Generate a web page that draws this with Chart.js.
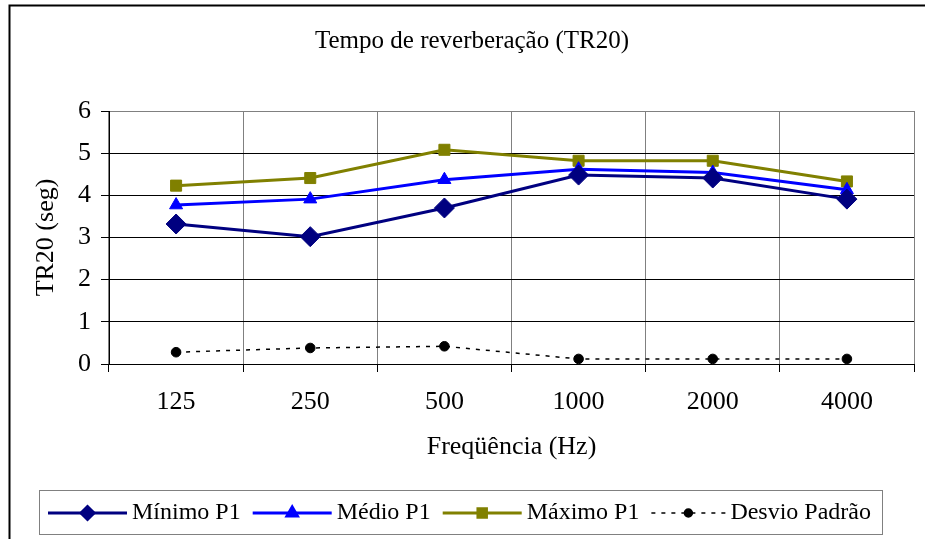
<!DOCTYPE html>
<html>
<head>
<meta charset="utf-8">
<script src="https://cdn.jsdelivr.net/npm/chart.js@4"></script>
<style>
  html, body { margin: 0; padding: 0; background: #fff; }
  #wrap { position: relative; width: 925px; height: 539px; overflow: hidden; }
  canvas { display: block; }
</style>
</head>
<body>
<div id="wrap"><canvas id="c" width="925" height="539"></canvas></div>
<script>
const chartTitle = 'Tempo de reverberação (TR20)';
const xTitle = 'Freqüência (Hz)';
const yTitle = 'TR20 (seg)';
const categories = ['125', '250', '500', '1000', '2000', '4000'];
const minimoP1 = [3.32, 3.02, 3.70, 4.48, 4.41, 3.91];
const medioP1  = [3.77, 3.91, 4.37, 4.62, 4.54, 4.13];
const maximoP1 = [4.23, 4.41, 5.08, 4.82, 4.82, 4.33];
const desvioPadrao = [0.28, 0.38, 0.42, 0.12, 0.12, 0.12];
const yTicks = [0, 1, 2, 3, 4, 5, 6];

const FONT = "'Liberation Serif', 'Times New Roman', serif";

const decorPlugin = {
  id: 'decor',
  afterDraw(chart) {
    const ctx = chart.ctx;
    ctx.save();
    // outer frame (top & left visible)
    ctx.strokeStyle = '#000';
    ctx.lineWidth = 2;
    ctx.beginPath();
    ctx.moveTo(9.5, 560);
    ctx.lineTo(9.5, 5.5);
    ctx.lineTo(940, 5.5);
    ctx.stroke();
    // title
    ctx.fillStyle = '#000';
    ctx.font = '25px ' + FONT;
    ctx.textAlign = 'center';
    ctx.textBaseline = 'middle';
    ctx.fillText(chartTitle, 472, 41);
    // legend
    const boxL = 39.5, boxT = 490.5, boxR = 882.5, boxB = 534.5;
    ctx.strokeStyle = '#808080';
    ctx.lineWidth = 1;
    ctx.strokeRect(boxL, boxT, boxR - boxL, boxB - boxT);
    ctx.font = '24px ' + FONT;
    ctx.textAlign = 'left';
    const cy = 513;
    const legendRadius = [6.5, 6, 6, 4];
    let x = 48;
    chart.data.datasets.forEach((ds, i) => {
      const len = i === 3 ? 74 : 79;
      ctx.save();
      ctx.strokeStyle = ds.borderColor;
      ctx.lineWidth = ds.borderWidth;
      ctx.setLineDash(ds.borderDash || []);
      ctx.beginPath();
      ctx.moveTo(x, cy);
      ctx.lineTo(x + len, cy);
      ctx.stroke();
      ctx.setLineDash([]);
      ctx.fillStyle = ds.pointBackgroundColor;
      ctx.strokeStyle = ds.pointBorderColor;
      Chart.helpers.drawPoint(ctx, {
        pointStyle: ds.pointStyle,
        radius: legendRadius[i],
        borderWidth: 1,
        rotation: 0
      }, x + len / 2, cy);
      ctx.restore();
      const tx = x + len + 5;
      ctx.fillStyle = '#000';
      ctx.fillText(ds.label, tx, cy);
      x = tx + ctx.measureText(ds.label).width + 12;
    });
    ctx.restore();
  }
};

new Chart(document.getElementById('c'), {
  type: 'line',
  data: {
    labels: categories,
    datasets: [
      {
        label: 'Mínimo P1', data: minimoP1,
        borderColor: '#000080', borderWidth: 3,
        pointStyle: 'rectRot', pointRadius: 10,
        pointBackgroundColor: '#000080', pointBorderColor: '#000080', pointBorderWidth: 1
      },
      {
        label: 'Médio P1', data: medioP1,
        borderColor: '#0000FF', borderWidth: 3,
        pointStyle: 'triangle', pointRadius: 7.5,
        pointBackgroundColor: '#0000FF', pointBorderColor: '#0000FF', pointBorderWidth: 1
      },
      {
        label: 'Máximo P1', data: maximoP1,
        borderColor: '#808000', borderWidth: 3,
        pointStyle: 'rect', pointRadius: 7.8,
        pointBackgroundColor: '#808000', pointBorderColor: '#808000', pointBorderWidth: 1
      },
      {
        label: 'Desvio Padrão', data: desvioPadrao,
        borderColor: '#000000', borderWidth: 1.5, borderDash: [4, 6],
        pointStyle: 'circle', pointRadius: 4.8,
        pointBackgroundColor: '#000000', pointBorderColor: '#000000', pointBorderWidth: 1
      }
    ]
  },
  options: {
    responsive: false,
    animation: false,
    devicePixelRatio: 1,
    layout: { padding: { left: 10, right: 9, top: 111, bottom: 69 } },
    plugins: {
      legend: { display: false },
      title: { display: false },
      tooltip: { enabled: false }
    },
    scales: {
      x: {
        type: 'category',
        offset: true,
        grid: {
          offset: true,
          color: '#808080',
          lineWidth: 1,
          drawTicks: true,
          tickLength: 8,
          tickColor: '#000'
        },
        border: { display: true, color: '#000', width: 1 },
        ticks: {
          color: '#000',
          font: { family: FONT, size: 26 },
          padding: 15,
          maxRotation: 0,
          autoSkip: false
        },
        title: {
          display: true, text: xTitle, color: '#000',
          font: { family: FONT, size: 26 },
          padding: { top: 0, bottom: 7.5 }
        },
        afterFit(scale) { scale.height = 106; }
      },
      y: {
        min: 0, max: 6,
        afterBuildTicks(scale) { scale.ticks = yTicks.map(v => ({ value: v })); },
        grid: {
          color: (c) => (c.tick && c.tick.value === 6) ? '#808080' : '#000',
          lineWidth: 1,
          drawTicks: true,
          tickLength: 8,
          tickColor: '#000'
        },
        border: { display: true, color: '#000', width: 1 },
        ticks: {
          color: '#000',
          font: { family: FONT, size: 26 },
          padding: 10
        },
        title: {
          display: true, text: yTitle, color: '#000',
          font: { family: FONT, size: 26 },
          padding: { top: 21, bottom: 0 }
        },
        afterFit(scale) { scale.width = 99; }
      }
    }
  },
  plugins: [decorPlugin]
});
</script>
</body>
</html>
